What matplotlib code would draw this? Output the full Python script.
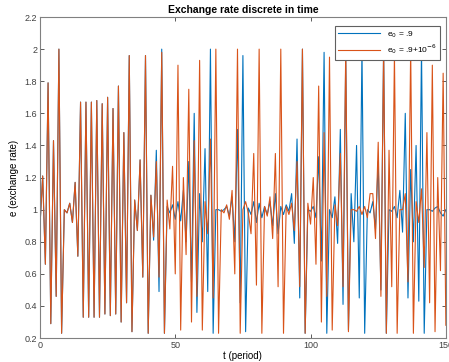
import matplotlib
matplotlib.use("Agg")
import matplotlib.pyplot as plt

plt.rcParams['font.family'] = ['Liberation Sans', 'DejaVu Sans']

t = list(range(151))

e_a = [
    0.90, 1.21, 0.66, 1.79, 0.29, 1.43, 0.46, 2.00, 0.23, 1.00,   # 0-9
    0.98, 1.04, 0.92, 1.17, 0.71, 1.67, 0.33, 1.67, 0.33, 1.67,   # 10-19
    0.33, 1.68, 0.33, 1.66, 0.35, 1.70, 0.34, 1.63, 0.35, 1.77,   # 20-29
    0.30, 1.48, 0.42, 1.96, 0.24, 1.06, 0.87, 1.31, 0.58, 1.96,   # 30-39
    0.23, 1.09, 0.81, 1.37, 0.49, 2.00, 0.23, 1.02, 0.98, 1.03,   # 40-49
    0.94, 1.05, 0.93, 1.12, 0.80, 1.30, 0.55, 1.60, 0.36, 1.10,   # 50-59
    0.80, 1.38, 0.49, 2.00, 0.23, 1.00, 1.00, 0.99, 1.00, 1.02,   # 60-69
    0.96, 1.08, 0.80, 1.50, 0.42, 1.96, 0.24, 1.01, 0.97, 1.05,   # 70-79
    0.92, 1.04, 0.95, 1.02, 0.97, 1.05, 0.90, 1.10, 0.85, 1.02,   # 80-89
    0.97, 1.03, 0.99, 1.10, 0.79, 1.44, 0.45, 2.00, 0.23, 1.00,   # 90-99
    0.99, 1.02, 0.95, 1.33, 0.68, 1.98, 0.23, 1.00, 0.95, 1.08,   # 100-109
    0.79, 1.50, 0.41, 1.95, 0.25, 1.10, 0.80, 1.40, 0.45, 2.00,   # 110-119
    0.23, 1.00, 0.98, 1.05, 0.88, 1.30, 0.50, 2.00, 0.23, 1.00,   # 120-129
    0.99, 1.02, 0.95, 1.12, 0.86, 1.60, 0.45, 1.25, 0.80, 1.40,   # 130-139
    0.43, 2.00, 0.23, 1.00, 1.00, 0.99, 1.01, 1.02, 0.98, 0.96,   # 140-149
    1.00,                                                         # 150
]

e_b = [
    0.90, 1.21, 0.66, 1.79, 0.29, 1.43, 0.46, 2.00, 0.23, 1.00,   # 0-9
    0.98, 1.04, 0.92, 1.17, 0.71, 1.67, 0.33, 1.67, 0.33, 1.67,   # 10-19
    0.33, 1.68, 0.33, 1.66, 0.35, 1.70, 0.34, 1.63, 0.35, 1.77,   # 20-29
    0.30, 1.48, 0.42, 1.96, 0.24, 1.06, 0.87, 1.31, 0.58, 1.96,   # 30-39
    0.23, 1.09, 0.83, 1.30, 0.58, 1.98, 0.23, 1.06, 0.88, 1.27,   # 40-49
    0.60, 1.90, 0.25, 1.20, 0.72, 1.75, 0.30, 1.43, 0.46, 1.93,   # 50-59
    0.25, 1.05, 0.85, 1.44, 0.45, 2.00, 0.23, 1.00, 0.98, 1.03,   # 60-69
    0.94, 1.12, 0.60, 2.00, 0.23, 1.00, 1.05, 0.98, 0.85, 1.35,   # 70-79
    0.53, 2.00, 0.23, 1.02, 0.96, 1.08, 0.82, 1.35, 0.52, 2.00,   # 80-89
    0.23, 1.02, 0.97, 1.04, 0.87, 1.30, 0.52, 2.00, 0.23, 1.04,   # 90-99
    0.91, 1.20, 0.66, 1.77, 0.30, 1.48, 0.46, 1.95, 0.25, 1.03,   # 100-109
    0.90, 1.35, 0.52, 2.00, 0.24, 1.00, 1.00, 0.99, 1.02, 0.97,   # 110-119
    1.02, 0.95, 1.10, 1.10, 0.82, 1.42, 0.46, 2.00, 0.23, 1.37,   # 120-129
    0.52, 1.97, 0.23, 1.00, 1.00, 1.10, 0.55, 2.00, 0.23, 1.05,   # 130-139
    0.92, 1.13, 0.64, 1.48, 0.42, 1.90, 0.24, 1.20, 0.62, 1.85,   # 140-149
    0.28,                                                         # 150
]

labels = [r'e$_0$ = .9', r'e$_0$ = .9+10$^{-6}$']
colors = ['#0072BD', '#D95319']

fig = plt.figure(figsize=(4.49, 3.62), dpi=100)
ax = fig.add_axes([0.089, 0.066, 0.904, 0.887])
ax.plot(t, e_a, color=colors[0], lw=0.8, label=labels[0])
ax.plot(t, e_b, color=colors[1], lw=0.8, label=labels[1])

ax.set_xlim(0, 150)
ax.set_ylim(0.2, 2.2)
ax.set_xticks([0, 50, 100, 150])
ax.set_yticks([0.2, 0.4, 0.6, 0.8, 1.0, 1.2, 1.4, 1.6, 1.8, 2.0, 2.2])
ax.set_yticklabels(['0.2', '0.4', '0.6', '0.8', '1', '1.2', '1.4', '1.6', '1.8', '2', '2.2'])
ax.tick_params(direction='in', top=True, right=True, length=3, width=0.6,
               labelsize=6.5, colors='#404040', pad=2)
for s in ax.spines.values():
    s.set_color('#808080')
    s.set_linewidth(0.8)

ax.set_title('Exchange rate discrete in time', fontsize=7.5, fontweight='bold', pad=3)
ax.set_xlabel('t (period)', fontsize=7, labelpad=1)
ax.set_ylabel('e (exchange rate)', fontsize=7, labelpad=4)

leg = ax.legend(loc='upper right', fontsize=6, frameon=True, fancybox=False,
                handlelength=5.0, borderpad=0.4, labelspacing=0.3,
                bbox_to_anchor=(0.995, 0.985))
leg.get_frame().set_edgecolor('#606060')
leg.get_frame().set_linewidth(0.8)
leg.get_frame().set_alpha(1)

fig.savefig('out.png', dpi=100)
